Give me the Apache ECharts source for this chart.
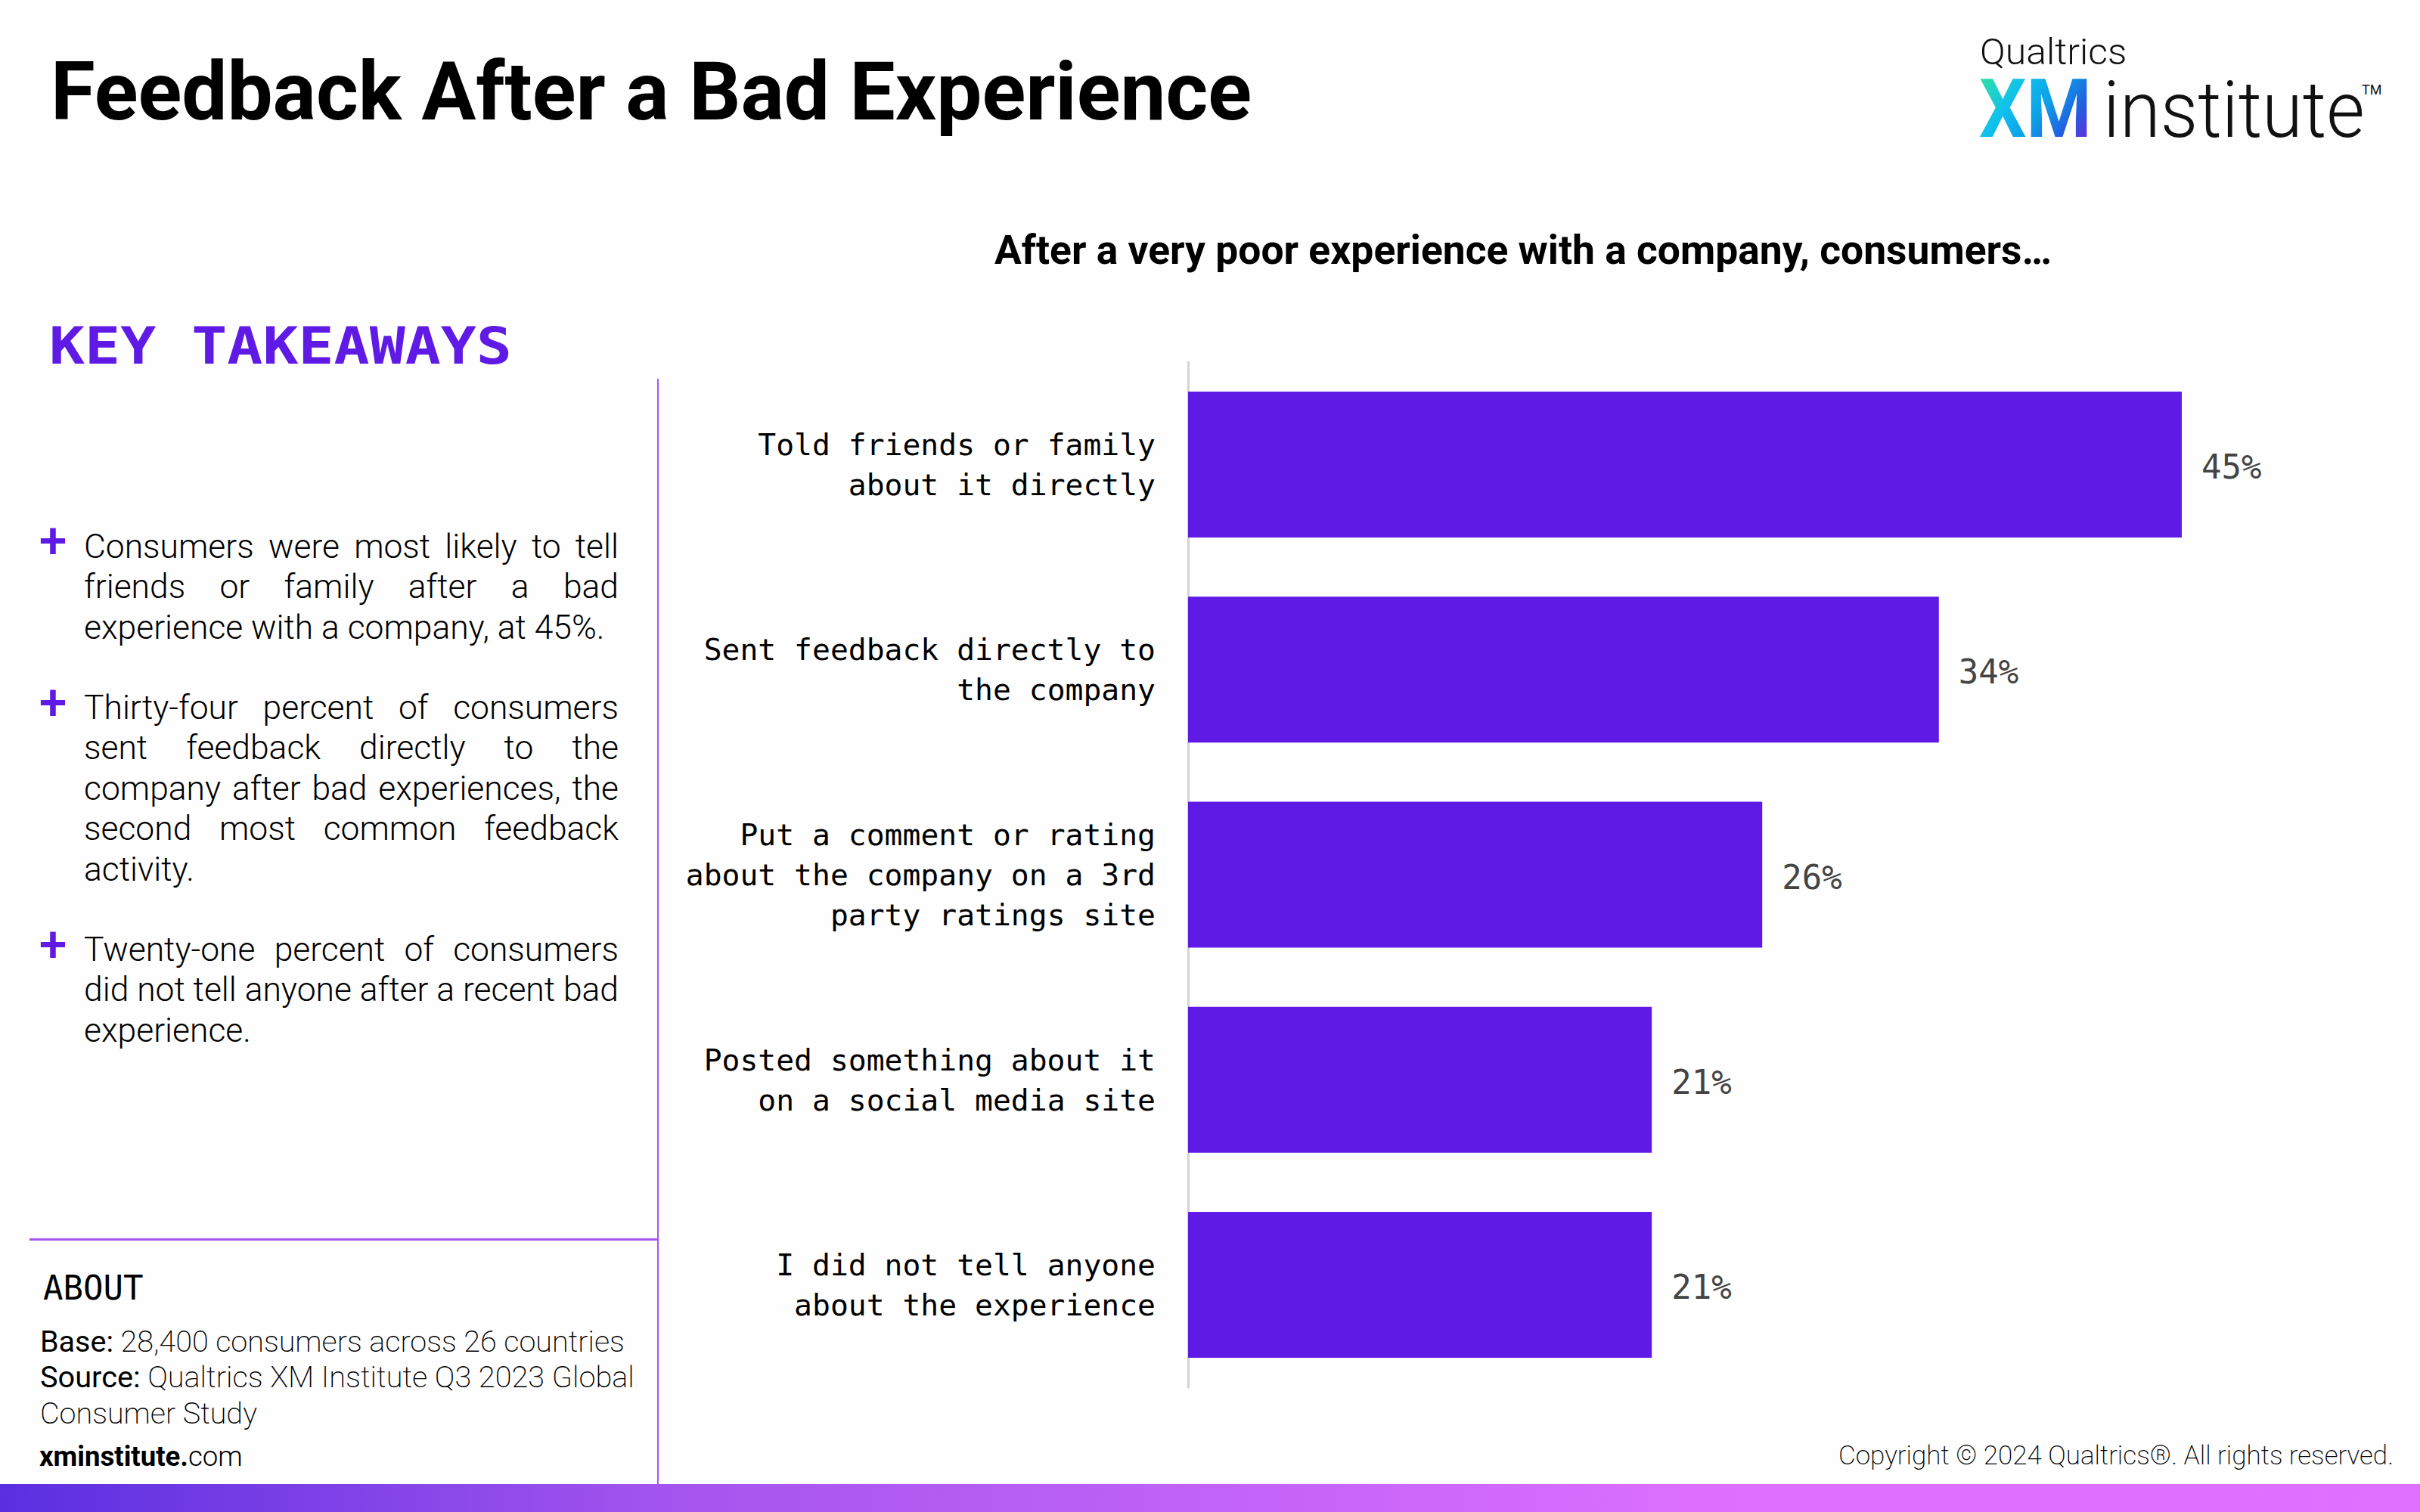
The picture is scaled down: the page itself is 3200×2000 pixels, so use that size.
<!DOCTYPE html>
<html>
<head>
<meta charset="utf-8">
<style>html,body{margin:0;padding:0;background:#fefefe}#main{width:3200px;height:2000px}</style>
<script src="https://cdn.jsdelivr.net/npm/echarts@6/dist/echarts.min.js"></script>
</head>
<body>
<div id="main"></div>
<script>
const categories = [
  'Told friends or family\nabout it directly',
  'Sent feedback directly to\nthe company',
  'Put a comment or rating\nabout the company on a 3rd\nparty ratings site',
  'Posted something about it\non a social media site',
  'I did not tell anyone\nabout the experience'
];
const values = [45, 34, 26, 21, 21];

const takeaway1 = ['Consumers were most likely to tell', 'friends or family after a bad', 'experience with a company, at 45%.'];
const takeaway2 = ['Thirty-four percent of consumers', 'sent feedback directly to the', 'company after bad experiences, the', 'second most common feedback', 'activity.'];
const takeaway3 = ['Twenty-one percent of consumers', 'did not tell anyone after a recent bad', 'experience.'];

const PURPLE = '#5f1ae5';
const LINE = '#a855f0';
const MONO = '"DejaVu Sans Mono", monospace';
const SANS = 'Roboto, sans-serif';

const ctx = document.createElement('canvas').getContext('2d');
function widthOf(s, size, weight, family) {
  ctx.font = weight + ' ' + size + 'px ' + family;
  return ctx.measureText(s).width;
}

// y is the text baseline
function txt(s, x, y, size, weight, color, family, extra, scaleX) {
  return {
    type: 'text',
    x: x,
    y: y - 0.34 * size,
    scaleX: scaleX || 1,
    style: Object.assign({
      text: s,
      fontSize: size,
      fontWeight: weight,
      fontFamily: family || SANS,
      fill: color || '#000',
      align: 'left',
      verticalAlign: 'middle'
    }, extra || {})
  };
}

// one line spread over the column width, word by word
function justified(line, x, y, w, size, weight) {
  const words = line.split(' ');
  const total = words.reduce((a, b) => a + widthOf(b, size, weight, SANS), 0);
  const gap = (w - total) / (words.length - 1);
  let cx = x;
  return words.map(word => {
    const el = txt(word, cx, y, size, weight, '#000');
    cx += widthOf(word, size, weight, SANS) + gap;
    return el;
  });
}

function block(lines, y0) {
  const out = [];
  lines.forEach((line, i) => {
    const y = y0 + i * 53.5;
    if (i === lines.length - 1) out.push(txt(line, 111, y, 44.4, 300, '#000'));
    else out.push(...justified(line, 111, y, 707, 44.4, 300));
  });
  return out;
}

function pair(a, b, x, y, size, w1, w2) {
  return [
    txt(a, x, y, size, w1, '#000'),
    txt(b, x + widthOf(a, size, w1, SANS), y, size, w2, '#000')
  ];
}

function plus(y) {
  return { type: 'text', x: 70, y: y, style: { text: '+', fontSize: 66, fontWeight: 500, fontFamily: SANS, fill: PURPLE, align: 'center', verticalAlign: 'middle' } };
}

const graphics = [
  txt('Feedback After a Bad Experience', 67, 158, 107, 700),
  txt('After a very poor experience with a company, consumers…', 1315, 349, 53.4, 700),
  txt('KEY TAKEAWAYS', 65, 480, 68, 700, PURPLE, MONO, null, 1.15),

  txt('Qualtrics', 2618, 85, 48, 300, '#111', SANS, null, 1.04),
  txt('XM', 2617, 181, 107, 700, '#1f6fe0', SANS, null, 0.92),
  txt('institute', 2781, 181, 104, 300, '#111', SANS, null, 0.94),
  txt('TM', 3123, 125, 18, 400, '#111'),

  plus(715), plus(929), plus(1249),
  ...block(takeaway1, 738),
  ...block(takeaway2, 951),
  ...block(takeaway3, 1271),

  { type: 'rect', shape: { x: 869, y: 501, width: 2, height: 1462 }, style: { fill: LINE } },
  { type: 'rect', shape: { x: 39, y: 1638, width: 831, height: 3 }, style: { fill: LINE } },

  txt('ABOUT', 57, 1718, 44, 400, '#000', MONO),
  ...pair('Base:', ' 28,400 consumers across 26 countries', 53, 1788, 39.5, 400, 200),
  ...pair('Source:', ' Qualtrics XM Institute Q3 2023 Global', 53, 1835, 39.7, 400, 200),
  txt('Consumer Study', 53, 1883, 39.5, 200, '#000'),
  ...pair('xminstitute.', 'com', 52, 1939, 36.6, 700, 300),
  txt('Copyright © 2024 Qualtrics®. All rights reserved.', 3165, 1937, 35, 200, '#000', SANS, { align: 'right' }),

  {
    type: 'rect',
    shape: { x: 0, y: 1963, width: 3200, height: 37 },
    style: {
      fill: new echarts.graphic.LinearGradient(0, 0, 1, 0, [
        { offset: 0, color: '#5a2fe0' },
        { offset: 0.28, color: '#a455ee' },
        { offset: 0.72, color: '#de70ff' },
        { offset: 1, color: '#e070ff' }
      ])
    }
  }
];

const chart = echarts.init(document.getElementById('main'), null, { renderer: 'svg' });

// text fills can't take a gradient through zrender, so set it on the svg node
function paintLogo() {
  const svg = chart.getDom().querySelector('svg');
  const xm = Array.from(svg.querySelectorAll('text')).find(t => t.textContent === 'XM');
  if (!xm || svg.querySelector('#xmFill')) return;
  const NS = 'http://www.w3.org/2000/svg';
  const grad = document.createElementNS(NS, 'linearGradient');
  grad.setAttribute('id', 'xmFill');
  grad.setAttribute('x1', '0');
  grad.setAttribute('y1', '0.2');
  grad.setAttribute('x2', '1');
  grad.setAttribute('y2', '0.8');
  [['0', '#2fe0a5'], ['0.3', '#10c0ee'], ['0.55', '#0d9fe8'], ['0.78', '#2160df'], ['1', '#6a28e2']].forEach(s => {
    const stop = document.createElementNS(NS, 'stop');
    stop.setAttribute('offset', s[0]);
    stop.setAttribute('stop-color', s[1]);
    grad.appendChild(stop);
  });
  svg.appendChild(grad);
  xm.setAttribute('fill', 'url(#xmFill)');
}
chart.on('finished', paintLogo);

chart.setOption({
  animation: false,
  backgroundColor: '#fefefe',
  grid: { left: 1571, top: 479, width: 1460, height: 1356, containLabel: false },
  xAxis: { type: 'value', min: 0, max: 50, show: false },
  yAxis: {
    type: 'category',
    inverse: true,
    data: categories,
    axisTick: { show: false },
    axisLine: { lineStyle: { color: '#d3d3d3', width: 3 } },
    axisLabel: { color: '#000', fontFamily: MONO, fontSize: 39.7, lineHeight: 53, margin: 43, align: 'right', padding: [0, 0, 4, 0] }
  },
  series: [{
    type: 'bar',
    data: values,
    barWidth: 193,
    itemStyle: { color: PURPLE },
    label: {
      show: true,
      position: 'right',
      distance: 26,
      offset: [0, 3],
      formatter: '{c}%',
      color: '#444',
      fontFamily: MONO,
      fontSize: 44
    }
  }],
  graphic: graphics
});
paintLogo();
</script>
</body>
</html>
